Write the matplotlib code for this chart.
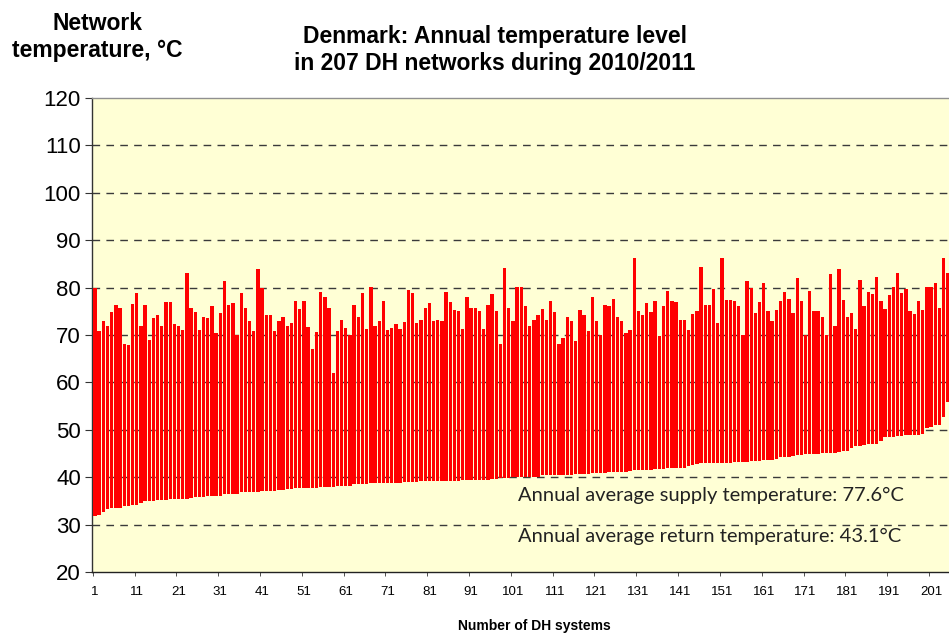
import matplotlib
matplotlib.use("Agg")
import matplotlib.pyplot as plt
import numpy as np

supply = [80.0,70.8,72.9,72.0,74.8,76.3,75.8,68.0,67.8,76.5,
          78.8,71.8,76.3,68.9,73.5,74.2,72.0,76.9,76.9,72.3,
          72.0,71.0,83.0,75.6,74.8,71.0,73.9,73.5,76.1,70.4,
          74.6,81.4,76.3,76.7,69.9,78.8,75.6,72.9,70.8,83.9,
          79.9,74.2,74.2,70.8,72.9,73.9,71.8,72.5,77.1,75.4,
          77.1,71.6,67.0,70.6,79.0,78.0,75.6,61.9,70.8,73.2,
          71.5,69.9,76.3,73.8,78.8,71.2,80.1,72.0,72.9,77.1,
          71.0,71.4,72.3,71.2,72.7,79.4,78.8,72.5,73.2,75.6,
          76.7,72.9,73.2,72.9,79.0,76.9,75.2,75.0,71.2,78.0,
          75.6,75.6,75.0,71.2,76.3,78.6,75.0,68.2,84.1,75.6,
          72.9,80.1,80.1,76.1,72.0,73.2,74.2,75.4,73.2,77.1,
          74.8,68.0,69.3,73.9,73.0,68.8,75.2,74.2,70.8,78.0,
          73.0,70.1,76.3,76.1,77.7,73.8,72.9,70.4,71.0,86.2,
          75.0,74.2,76.7,74.8,77.1,69.7,76.1,79.2,77.1,76.9,
          73.2,73.2,71.0,74.5,75.0,84.4,76.3,76.3,79.6,72.5,
          86.2,77.3,77.3,77.1,76.1,70.1,81.4,79.9,74.6,76.9,
          80.9,75.0,72.9,75.2,77.1,79.0,77.5,74.6,82.0,77.1,
          69.9,79.2,75.0,75.0,73.8,69.9,82.8,72.0,83.9,77.3,
          73.8,74.6,71.2,81.5,76.1,79.0,78.6,82.2,77.1,75.4,
          78.5,80.1,83.0,78.8,79.6,75.0,74.5,77.1,75.2,80.1,
          80.1,80.9,75.8,86.2,83.0]

ret = [31.9,32.1,32.7,33.2,33.4,33.6,33.6,34.0,34.0,34.2,
       34.2,34.6,34.9,34.9,34.9,35.1,35.1,35.1,35.3,35.3,
       35.3,35.5,35.5,35.7,35.9,35.9,35.9,36.1,36.1,36.1,
       36.1,36.5,36.5,36.5,36.5,36.8,36.8,36.8,36.8,36.8,
       37.0,37.0,37.0,37.0,37.4,37.4,37.6,37.6,37.8,37.8,
       37.8,37.8,37.8,37.8,38.0,38.0,38.0,38.0,38.2,38.2,
       38.2,38.2,38.5,38.5,38.5,38.5,38.7,38.7,38.7,38.7,
       38.7,38.7,38.7,38.7,38.9,38.9,38.9,38.9,39.1,39.1,
       39.1,39.1,39.1,39.1,39.3,39.3,39.3,39.3,39.5,39.5,
       39.5,39.5,39.5,39.5,39.5,39.7,39.7,39.9,39.9,39.9,
       40.1,40.1,40.1,40.1,40.1,40.1,40.1,40.4,40.4,40.4,
       40.4,40.4,40.4,40.4,40.4,40.6,40.6,40.6,40.6,40.8,
       40.8,40.8,40.8,41.0,41.0,41.0,41.2,41.2,41.4,41.6,
       41.6,41.6,41.6,41.6,41.8,41.8,41.8,42.0,42.0,42.0,
       42.0,42.0,42.3,42.5,42.7,42.9,42.9,42.9,42.9,42.9,
       43.1,43.1,43.1,43.3,43.3,43.3,43.3,43.5,43.5,43.5,
       43.7,43.7,43.7,43.9,44.2,44.2,44.2,44.4,44.6,44.6,
       44.8,45.0,45.0,45.0,45.2,45.2,45.2,45.2,45.4,45.6,
       45.6,46.1,46.5,46.5,46.7,46.9,46.9,47.1,47.6,48.4,
       48.4,48.4,48.6,48.6,48.8,49.0,49.0,49.0,49.2,50.3,
       50.5,51.1,51.1,52.8,55.8]

system_no = list(range(1, len(supply) + 1))
x_tick_labels = [str(v) for v in range(1, 202, 10)]
y_ticks = list(range(20, 121, 10))

title = "Denmark: Annual temperature level\nin 207 DH networks during 2010/2011"
ylabel = "Network\ntemperature, \u00b0C"
xlabel = "Number of DH systems"
note_supply = "Annual average supply temperature: 77.6\u00b0C"
note_return = "Annual average return temperature: 43.1\u00b0C"

plt.rcParams['font.family'] = ['Liberation Sans', 'DejaVu Sans']

W, H = 949, 633
fig = plt.figure(figsize=(W / 100, H / 100), dpi=100)
fig.patch.set_facecolor('white')

ax_left, ax_right = 92, 949
ax_top, ax_bot = 98, 572
ax = fig.add_axes([ax_left / W, 1 - ax_bot / H, (ax_right - ax_left) / W, (ax_bot - ax_top) / H])
ax.set_facecolor('#FFFFD5')

s = np.array(supply)
r = np.array(ret)
ax.bar(system_no, s - r, bottom=r, width=0.8, color='#FF0000', edgecolor='none', zorder=3)

ax.set_ylim(20, 120)
ax.set_xlim(0.3, 205.3)
ax.set_yticks(y_ticks)
ax.set_yticklabels([str(v) for v in y_ticks], fontsize=16)
ax.set_xticks(list(range(1, 202, 10)))
ax.set_xticklabels(x_tick_labels, fontsize=9.5)
ax.tick_params(axis='x', length=0, pad=10)
ax.set_xticks([v + 0.5 for v in range(0, 206, 10)], minor=True)
ax.tick_params(axis='x', which='minor', length=3, direction='out', color='#333333')
ax.tick_params(axis='y', length=5, direction='out', color='#333333', pad=3)

for yv in range(30, 120, 10):
    ax.axhline(yv, color='#3a3a3a', lw=1.0, dashes=(5.5, 4.5), zorder=1)

ax.spines['right'].set_visible(False)
ax.spines['top'].set_color('#909090')
ax.spines['left'].set_color('#333333')
ax.spines['bottom'].set_color('#222222')
for sp in ax.spines.values():
    sp.set_linewidth(1.0)

ax.text(102.2, 36.2, note_supply, fontsize=14.5, family=['Lato', 'DejaVu Sans'],
        color='#222222', va='center', ha='left', zorder=4)
ax.text(102.2, 27.4, note_return, fontsize=14.5, family=['Lato', 'DejaVu Sans'],
        color='#222222', va='center', ha='left', zorder=4)

fig.text(495 / W, 1 - 50 / H, title, ha='center', va='center', fontsize=16.5,
         fontweight='bold', linespacing=1.25)
fig.text(97 / W, 1 - 37 / H, ylabel, ha='center', va='center', fontsize=16.5,
         fontweight='bold', linespacing=1.25)
fig.text(534 / W, 1 - 626 / H, xlabel, ha='center', va='center', fontsize=10,
         fontweight='bold')

fig.savefig('out.png', dpi=100)
